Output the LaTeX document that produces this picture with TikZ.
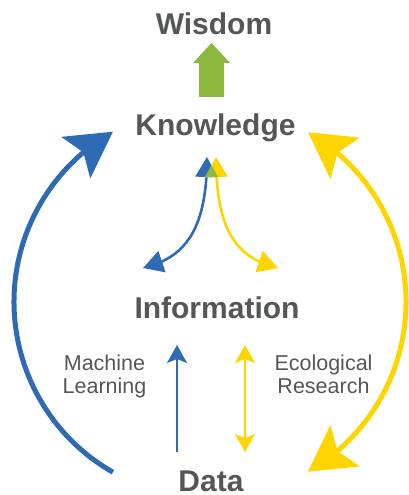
\documentclass[tikz,border=0pt]{standalone}
\usepackage{fontspec}
\setmainfont{Liberation Sans}
\usetikzlibrary{arrows.meta,bending}
\definecolor{tgray}{RGB}{85,86,89}
\definecolor{mblue}{RGB}{46,107,180}
\definecolor{myel}{RGB}{255,213,0}
\definecolor{mgreen}{RGB}{141,184,62}
\tikzset{
  bighead/.tip={Stealth[length=45pt,width=50pt,inset=9pt]},
  midhead/.tip={Triangle[length=20pt,width=22pt]},
  smallhead/.tip={Stealth[length=18pt,width=20pt,inset=4pt]},
  greenhead/.tip={Triangle[length=20pt,width=36pt]}
}
\begin{document}
\begin{tikzpicture}[x=1pt,y=1pt,
  title/.style={font=\fontsize{30}{31}\selectfont\bfseries, text=tgray, inner sep=0pt, anchor=base},
  lab/.style={font=\fontsize{21.5}{23}\selectfont, text=tgray, inner sep=0pt, anchor=north, align=center},
  bigline/.style={line width=5pt},
  midline/.style={line width=2.6pt},
  thinline/.style={line width=2.2pt}
]
\useasboundingbox (0,0) rectangle (409,-495);

% labels
\node[title] (wis) at (214,-35) {Wisdom};
\node[title] (kno) at (215.5,-135) {Knowledge};
\node[title] (inf) at (217,-318) {Information};
\node[title] (dat) at (211,-491) {Data};
\node[lab] (ml) at (104.5,-355) {Machine\\Learning};
\node[lab] (er) at (323.5,-355) {Ecological\\Research};

% coordinates for connector ends
\coordinate (gA) at (211.5,-97);
\coordinate (gB) at (211.5,-43);
\coordinate (bl0) at (112.9,-472.2);
\coordinate (yl0) at (308,-471.7);
\coordinate (bvA) at (177,-452);
\coordinate (bvB) at (177,-345);
\coordinate (yvA) at (245,-345);
\coordinate (yvB) at (245,-452);
\coordinate (bcA) at (143,-268);
\coordinate (bcB) at (207,-157);
\coordinate (ycA) at (278,-268);
\coordinate (ycB) at (216,-157);

% green arrow Knowledge -> Wisdom
\draw[mgreen, line width=25pt, -{greenhead}] (gA) -- (gB);

% big arcs
\draw[mblue, bigline, -{bighead}] (bl0) arc[start angle=240.3, end angle=119.7, radius=196];
\draw[myel, bigline, {bighead}-{bighead}] (yl0) arc[start angle=-60, end angle=60, radius=196];

% vertical arrows
\draw[mblue, thinline, -{smallhead}] (bvA) -- (bvB);
\draw[myel, thinline, {smallhead}-{smallhead}] (yvA) -- (yvB);

% inner curved arrows
\draw[mblue, midline, {midhead}-{midhead}] (bcA) .. controls (185,-258) and (207,-230) .. (bcB);
\draw[myel, midline, {midhead}-{midhead}] (ycA) .. controls (236,-258) and (216,-230) .. (ycB);
\fill[mgreen] (211.5,-165.2) -- (205,-177) -- (218,-177) -- cycle;
\end{tikzpicture}
\end{document}
